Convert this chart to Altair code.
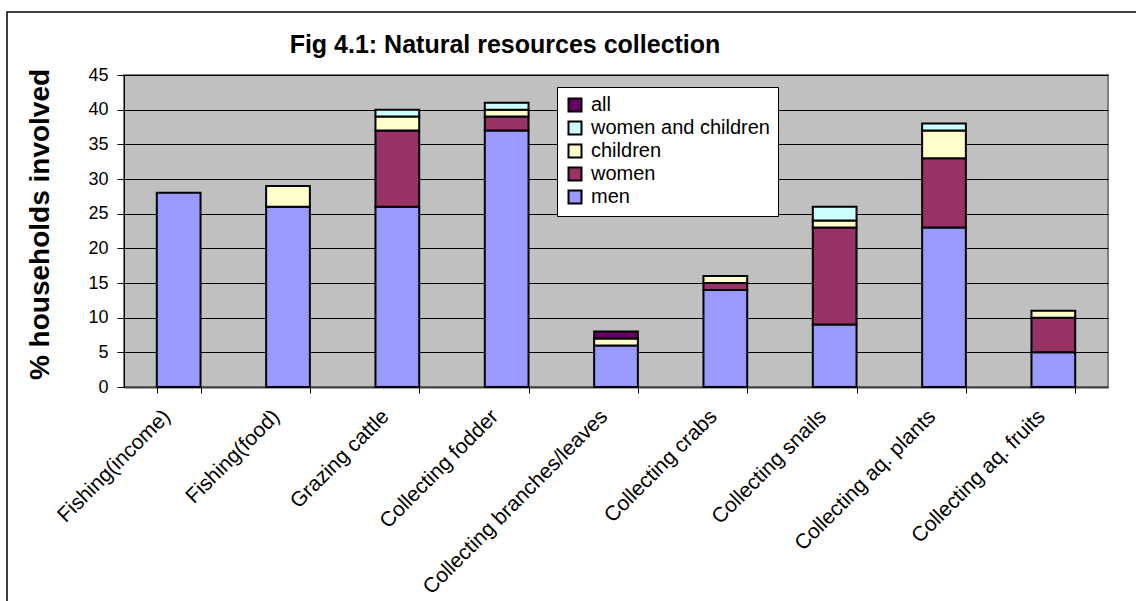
import altair as alt
import pandas as pd

categories = ["Fishing(income)", "Fishing(food)", "Grazing cattle", "Collecting fodder",
              "Collecting branches/leaves", "Collecting crabs", "Collecting snails",
              "Collecting aq. plants", "Collecting aq. fruits"]
series = ["men", "women", "children", "women and children", "all"]
men = [28, 26, 26, 37, 6, 14, 9, 23, 5]
women = [0, 0, 11, 2, 0, 1, 14, 10, 5]
children = [0, 3, 2, 1, 1, 1, 1, 4, 1]
women_children = [0, 0, 1, 1, 0, 0, 2, 1, 0]
all_ = [0, 0, 0, 0, 1, 0, 0, 0, 0]
colors = ["#9999FF", "#993366", "#FFFFCC", "#CCFFFF", "#660066"]
y_ticks = [0, 5, 10, 15, 20, 25, 30, 35, 40, 45]

rows = []
for si, (name, vals) in enumerate(zip(series, [men, women, children, women_children, all_])):
    for c, v in zip(categories, vals):
        if v > 0:
            rows.append({"activity": c, "group": name, "value": v, "ord": si})
df = pd.DataFrame(rows)

FONT = "Liberation Sans"

legend_domain = series[::-1]
legend_range = colors[::-1]

bars = alt.Chart(df).mark_bar(stroke="black", strokeWidth=2).encode(
    x=alt.X("activity:N", sort=categories, title=None,
            scale=alt.Scale(paddingInner=0.6, paddingOuter=0.3),
            axis=alt.Axis(labelAngle=-45, labelAlign="right", labelBaseline="middle",
                          labelOffset=-12, labelPadding=20, tickBand="extent", tickSize=6,
                          tickColor="black", domainColor="#404040", domainWidth=2,
                          labelFontSize=21, labelFont=FONT, labelColor="black",
                          labelLimit=400, grid=False)),
    y=alt.Y("value:Q", stack="zero", title="% households involved",
            scale=alt.Scale(domain=[0, 45], nice=False),
            axis=alt.Axis(values=y_ticks, tickSize=7, tickColor="black", domainColor="black",
                          labelFontSize=18, labelFont=FONT, labelColor="black", labelPadding=9,
                          grid=True, gridColor="black", gridWidth=1,
                          titleFontSize=28, titleFont=FONT, titleFontWeight="bold",
                          titleColor="black", titleX=-76, titleY=149, titleAngle=270,
                          titleBaseline="alphabetic", titleAlign="center")),
    fill=alt.Fill("group:N", scale=alt.Scale(domain=legend_domain, range=legend_range),
                  legend=alt.Legend(title=None)),
    order=alt.Order("ord:Q", sort="ascending"),
)

frame = alt.Chart(pd.DataFrame({"k": [0]})).mark_rect(
    fill="transparent", stroke="black", strokeWidth=1.5
).encode(x=alt.value(-117), y=alt.value(-63), x2=alt.value(1030), y2=alt.value(560))

chart = alt.layer(frame, bars).properties(
    width=984, height=312,
    autosize=alt.AutoSizeParams(type="none"),
    padding={"left": 124, "top": 75, "right": 28, "bottom": 214},
    title=alt.TitleParams("Fig 4.1: Natural resources collection", font=FONT, fontSize=25,
                          fontWeight="bold", color="black", anchor="middle", frame="group",
                          dx=-111, offset=10, dy=57),
).configure(background="white").configure_view(
    fill="#C0C0C0", stroke="#808080", strokeWidth=2
).configure_legend(
    orient="none", legendX=433, legendY=12, fillColor="white", strokeColor="black",
    padding=8, symbolType="square", symbolSize=169, symbolStrokeColor="black",
    symbolStrokeWidth=2, labelFontSize=20, labelFont=FONT, labelColor="black",
    rowPadding=1, labelOffset=6, cornerRadius=0, labelLimit=400
)

chart.save("out.html", embed_options={"renderer": "svg", "actions": False})
